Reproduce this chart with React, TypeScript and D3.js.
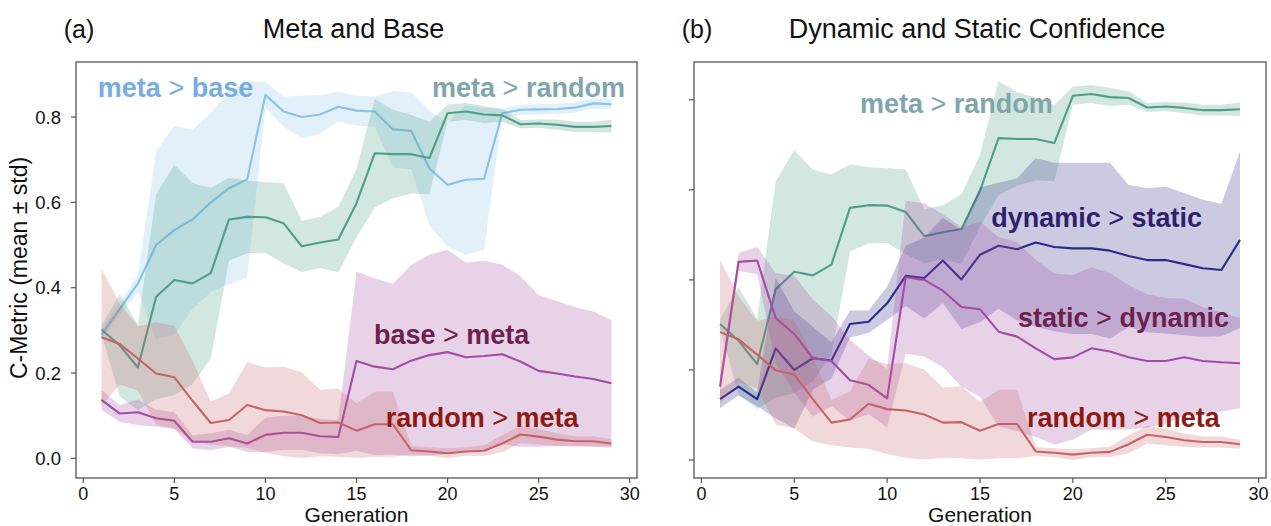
import React from 'react';
import * as d3 from 'd3';

// Generations on the x axis
const generations = [1, 2, 3, 4, 5, 6, 7, 8, 9, 10, 11, 12, 13, 14, 15, 16, 17, 18, 19, 20, 21, 22, 23, 24, 25, 26, 27, 28, 29];

const yTicks = [0, 0.2, 0.4, 0.6, 0.8];
const yTickLabels = ['0.0', '0.2', '0.4', '0.6', '0.8'];
const xTicks = [0, 5, 10, 15, 20, 25, 30];
const xTickLabels = ['0', '5', '10', '15', '20', '25', '30'];

// meta > base
const metaBaseMean = [0.29, 0.35, 0.41, 0.5, 0.535, 0.56, 0.6, 0.633, 0.654, 0.852, 0.813, 0.8, 0.806, 0.824, 0.815, 0.813, 0.771, 0.768, 0.68, 0.641, 0.653, 0.655, 0.809, 0.817, 0.818, 0.819, 0.822, 0.832, 0.83];
const metaBaseStd = [0.01, 0.015, 0.02, 0.22, 0.245, 0.21, 0.21, 0.225, 0.23, 0.03, 0.035, 0.05, 0.045, 0.035, 0.035, 0.035, 0.09, 0.09, 0.135, 0.145, 0.176, 0.166, 0.01, 0.012, 0.012, 0.012, 0.012, 0.012, 0.012];

// meta > random
const metaRandomMean = [0.302, 0.265, 0.213, 0.379, 0.418, 0.41, 0.434, 0.56, 0.566, 0.565, 0.551, 0.497, 0.506, 0.513, 0.598, 0.715, 0.713, 0.713, 0.704, 0.809, 0.813, 0.806, 0.804, 0.783, 0.785, 0.782, 0.777, 0.777, 0.779];
const metaRandomStd = [0.01, 0.12, 0.1, 0.24, 0.27, 0.235, 0.2, 0.097, 0.085, 0.083, 0.094, 0.06, 0.06, 0.077, 0.08, 0.127, 0.104, 0.092, 0.085, 0.02, 0.02, 0.02, 0.015, 0.01, 0.01, 0.012, 0.012, 0.012, 0.015];

// base > meta
const baseMetaMean = [0.137, 0.105, 0.108, 0.094, 0.088, 0.039, 0.039, 0.047, 0.035, 0.055, 0.06, 0.06, 0.052, 0.05, 0.228, 0.215, 0.209, 0.229, 0.242, 0.249, 0.237, 0.24, 0.244, 0.227, 0.205, 0.199, 0.192, 0.186, 0.176];
const baseMetaStd = [0.023, 0.02, 0.03, 0.02, 0.02, 0.015, 0.02, 0.02, 0.02, 0.04, 0.04, 0.04, 0.04, 0.04, 0.21, 0.207, 0.2, 0.224, 0.235, 0.24, 0.222, 0.223, 0.21, 0.2, 0.178, 0.17, 0.163, 0.158, 0.148];

// random > meta
const randomMetaMean = [0.284, 0.268, 0.234, 0.199, 0.19, 0.135, 0.083, 0.09, 0.125, 0.113, 0.11, 0.101, 0.083, 0.084, 0.065, 0.08, 0.08, 0.019, 0.016, 0.012, 0.016, 0.018, 0.035, 0.056, 0.051, 0.044, 0.04, 0.04, 0.035];
const randomMetaStd = [0.16, 0.095, 0.075, 0.12, 0.12, 0.094, 0.05, 0.062, 0.1, 0.1, 0.105, 0.1, 0.078, 0.08, 0.064, 0.076, 0.076, 0.01, 0.01, 0.012, 0.01, 0.012, 0.02, 0.02, 0.018, 0.015, 0.012, 0.012, 0.01];

// dynamic > static
const dynStaticMean = [0.135, 0.163, 0.135, 0.248, 0.2, 0.226, 0.221, 0.302, 0.307, 0.348, 0.409, 0.404, 0.443, 0.401, 0.456, 0.476, 0.468, 0.483, 0.473, 0.47, 0.47, 0.465, 0.453, 0.444, 0.444, 0.435, 0.426, 0.422, 0.489];
const dynStaticStd = [0.02, 0.02, 0.015, 0.156, 0.13, 0.07, 0.04, 0.03, 0.025, 0.037, 0.067, 0.09, 0.095, 0.11, 0.15, 0.14, 0.158, 0.187, 0.187, 0.19, 0.19, 0.195, 0.158, 0.16, 0.163, 0.158, 0.152, 0.147, 0.196];

// static > dynamic
const staticDynMean = [0.163, 0.44, 0.443, 0.315, 0.28, 0.226, 0.22, 0.177, 0.167, 0.137, 0.406, 0.4, 0.376, 0.34, 0.335, 0.285, 0.274, 0.248, 0.224, 0.228, 0.248, 0.241, 0.228, 0.22, 0.22, 0.228, 0.22, 0.217, 0.215];
const staticDynStd = [0.02, 0.02, 0.03, 0.1, 0.13, 0.13, 0.1, 0.09, 0.065, 0.065, 0.17, 0.17, 0.17, 0.177, 0.195, 0.21, 0.21, 0.197, 0.19, 0.183, 0.18, 0.174, 0.16, 0.148, 0.14, 0.13, 0.12, 0.11, 0.1];

const FONT = "'Liberation Sans', Arial, Helvetica, sans-serif";

type Series = { mean: number[]; std: number[]; color: string };
type Label = { a: string; b: string; g: number; v: number; color: string };

const C_BLUE = '#8ac2ea';
const C_TEAL = '#4e9e89';
const C_PURPLE = '#a24ca4';
const C_RED = '#c6636a';
const C_NAVY = '#2e2a86';

const panelA: Series[] = [
  { mean: metaBaseMean, std: metaBaseStd, color: C_BLUE },
  { mean: metaRandomMean, std: metaRandomStd, color: C_TEAL },
  { mean: baseMetaMean, std: baseMetaStd, color: C_PURPLE },
  { mean: randomMetaMean, std: randomMetaStd, color: C_RED },
];

const panelB: Series[] = [
  { mean: metaRandomMean, std: metaRandomStd, color: C_TEAL },
  { mean: dynStaticMean, std: dynStaticStd, color: C_NAVY },
  { mean: staticDynMean, std: staticDynStd, color: C_PURPLE },
  { mean: randomMetaMean, std: randomMetaStd, color: C_RED },
];

const labelsA: Label[] = [
  { a: 'meta', b: 'base', g: 0.8, v: 0.847, color: '#78ade0' },
  { a: 'meta', b: 'random', g: 19.15, v: 0.847, color: '#7fa6ab' },
  { a: 'base', b: 'meta', g: 15.96, v: 0.268, color: '#6d1f4f' },
  { a: 'random', b: 'meta', g: 16.6, v: 0.074, color: '#8c1a12' },
];

const labelsB: Label[] = [
  { a: 'meta', b: 'random', g: 8.54, v: 0.771, color: '#7fa6ab' },
  { a: 'dynamic', b: 'static', g: 15.6, v: 0.518, color: '#2f1f6e' },
  { a: 'static', b: 'dynamic', g: 17.05, v: 0.296, color: '#6d1f4f' },
  { a: 'random', b: 'meta', g: 17.53, v: 0.073, color: '#8c1a12' },
];

type PanelProps = {
  left: number;
  right: number;
  top: number;
  bottom: number;
  yDomain: [number, number];
  series: Series[];
  labels: Label[];
  showYLabels: boolean;
  title: string;
  tag: string;
  tagX: number;
};

function Panel({ left, right, top, bottom, yDomain, series, labels, showYLabels, title, tag, tagX }: PanelProps) {
  const x = d3.scaleLinear().domain([-0.4, 30.4]).range([left, right]);
  const y = d3.scaleLinear().domain(yDomain).range([bottom, top]);
  const cx = (left + right) / 2;

  return (
    <g>
      <text x={tagX} y={38} fontFamily={FONT} fontSize={25} textAnchor="middle" fill="#111">{tag}</text>
      <text x={cx - 3} y={38} fontFamily={FONT} fontSize={27} textAnchor="middle" fill="#111">{title}</text>

      {series.map((s, k) => {
        const area = d3
          .area<number>()
          .x((_, i) => x(generations[i]))
          .y0((m, i) => y(m - s.std[i]))
          .y1((m, i) => y(m + s.std[i]));
        const line = d3
          .line<number>()
          .x((_, i) => x(generations[i]))
          .y((m) => y(m));
        return (
          <g key={k}>
            <path d={area(s.mean) || ''} fill={s.color} fillOpacity={0.25} stroke="none" />
            <path d={line(s.mean) || ''} fill="none" stroke={s.color} strokeWidth={2.1} strokeLinejoin="round" />
          </g>
        );
      })}

      {labels.map((l, k) => (
        <text key={k} x={x(l.g)} y={y(l.v)} fontFamily={FONT} fontSize={27} fontWeight={700} fill={l.color}>
          {l.a}
          <tspan fontWeight={400}>{' > '}</tspan>
          {l.b}
        </text>
      ))}

      <rect x={left} y={top} width={right - left} height={bottom - top} fill="none" stroke="#555" strokeWidth={1.3} />

      {yTicks.map((t, i) => (
        <g key={'y' + i}>
          <line x1={left - 5} x2={left} y1={y(t)} y2={y(t)} stroke="#555" strokeWidth={1.2} />
          {showYLabels && (
            <text x={left - 15} y={y(t) + 6.5} fontFamily={FONT} fontSize={18.5} textAnchor="end" fill="#111">
              {yTickLabels[i]}
            </text>
          )}
        </g>
      ))}

      {xTicks.map((t, i) => (
        <g key={'x' + i}>
          <line x1={x(t)} x2={x(t)} y1={bottom} y2={bottom + 5} stroke="#555" strokeWidth={1.2} />
          <text x={x(t)} y={bottom + 22} fontFamily={FONT} fontSize={18} textAnchor="middle" fill="#111">
            {xTickLabels[i]}
          </text>
        </g>
      ))}

      <text x={cx} y={521.5} fontFamily={FONT} fontSize={21} textAnchor="middle" fill="#111">Generation</text>
    </g>
  );
}

export default function App() {
  return (
    <svg
      width={1271}
      height={526}
      viewBox="0 0 1271 526"
      style={{ position: 'absolute', left: 0, top: 0, background: '#fff' }}
    >
      <rect x={0} y={0} width={1271} height={526} fill="#fff" />
      <text
        transform="translate(27,268) rotate(-90)"
        fontFamily={FONT}
        fontSize={23}
        textAnchor="middle"
        fill="#111"
      >
        C-Metric (mean ± std)
      </text>
      <Panel
        left={76}
        right={637}
        top={62}
        bottom={478}
        yDomain={[-0.046, 0.929]}
        series={panelA}
        labels={labelsA}
        showYLabels={true}
        title="Meta and Base"
        tag="(a)"
        tagX={79}
      />
      <Panel
        left={694}
        right={1266}
        top={62}
        bottom={478}
        yDomain={[-0.04, 0.884]}
        series={panelB}
        labels={labelsB}
        showYLabels={false}
        title="Dynamic and Static Confidence"
        tag="(b)"
        tagX={697}
      />
    </svg>
  );
}
